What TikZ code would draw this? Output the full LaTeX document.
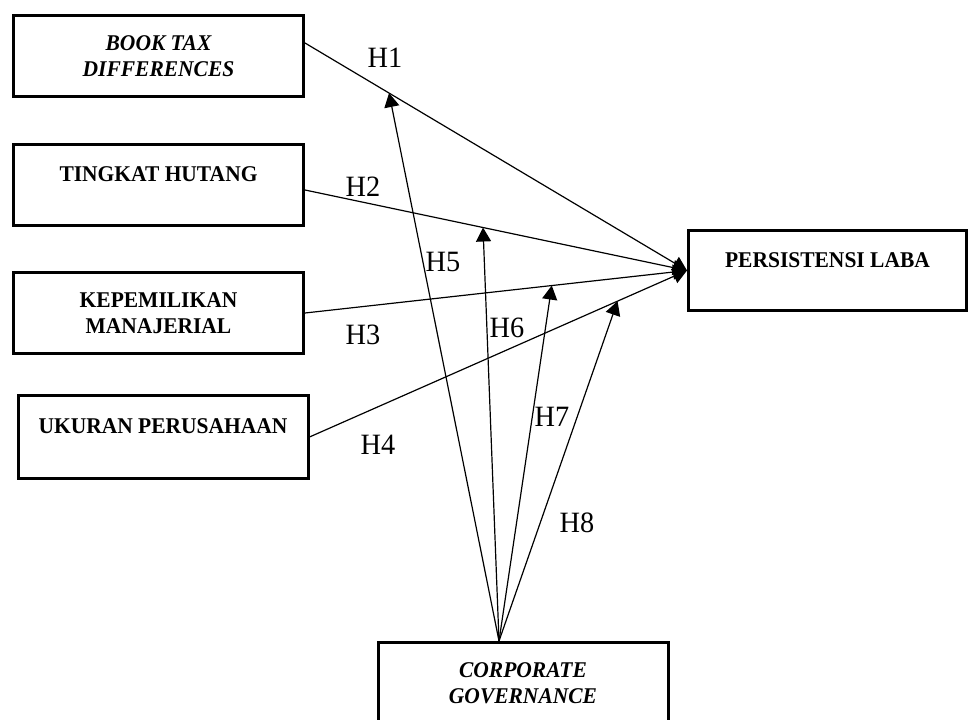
\documentclass[tikz,border=0pt]{standalone}
\usepackage{fontspec}
\setmainfont{Liberation Serif}
\newfontfamily\boxfont[FakeStretch=0.955]{Liberation Serif}
\newfontfamily\labfont[FakeStretch=0.96]{Liberation Serif}
\usetikzlibrary{positioning,arrows.meta}

\tikzset{
  var/.style={draw, line width=3pt, minimum width=290pt, minimum height=81pt,
    inner sep=0pt, align=center, font=\boxfont\fontsize{22.5}{25.5}\selectfont\bfseries},
  varit/.style={var, font=\boxfont\fontsize{22.5}{25.5}\selectfont\bfseries\itshape},
  oneline/.style={text depth=21pt},
  hyp/.style={line width=1.2pt, -{Triangle[length=14pt,width=15pt]}},
  hlab/.style={inner sep=0pt, font=\labfont\fontsize{29.5}{31}\selectfont}
}

\begin{document}
\begin{tikzpicture}[x=1pt, y=-1pt]
 \useasboundingbox (0,0) rectangle (969,720);
 \node [varit] (btd) at (158.5,56) {BOOK TAX\\DIFFERENCES};
 \node [var, oneline, below=45pt of btd] (th) {TINGKAT HUTANG};
 \node [var, below=44pt of th] (km) {KEPEMILIKAN\\MANAJERIAL};
 \node [var, oneline, minimum height=83pt, below=39pt of km, xshift=4.5pt] (up) {UKURAN PERUSAHAAN};
 \node [var, oneline, minimum width=278pt, minimum height=80pt] (pl) at (827.5,270.5) {PERSISTENSI LABA};
 \node [varit] (cg) at (523,683) {CORPORATE\\GOVERNANCE};
 \coordinate [left=24pt of cg.north] (cgin);

 \draw [hyp] ([yshift=13pt]btd.east) -- coordinate[pos=0.22] (m1) (pl.west);
 \draw [hyp] ([yshift=-5pt]th.east) -- coordinate[pos=0.466] (m2) (pl.west);
 \draw [hyp] (km.east) -- coordinate[pos=0.646] (m3) (pl.west);
 \draw [hyp] (up.east) -- coordinate[pos=0.816] (m4) (pl.west);
 \draw [hyp] (cgin) -- (m1);
 \draw [hyp] (cgin) -- (m2);
 \draw [hyp] (cgin) -- (m3);
 \draw [hyp] (cgin) -- (m4);

 \node [hlab] (h1) at (385,58) {H1};
 \node [hlab] (h2) at (363,187) {H2};
 \node [hlab] (h3) at (363,335) {H3};
 \node [hlab] (h4) at (378,445) {H4};
 \node [hlab] (h5) at (443,262) {H5};
 \node [hlab] (h6) at (507,328) {H6};
 \node [hlab] (h7) at (552,417) {H7};
 \node [hlab] (h8) at (577,523) {H8};
\end{tikzpicture}
\end{document}
